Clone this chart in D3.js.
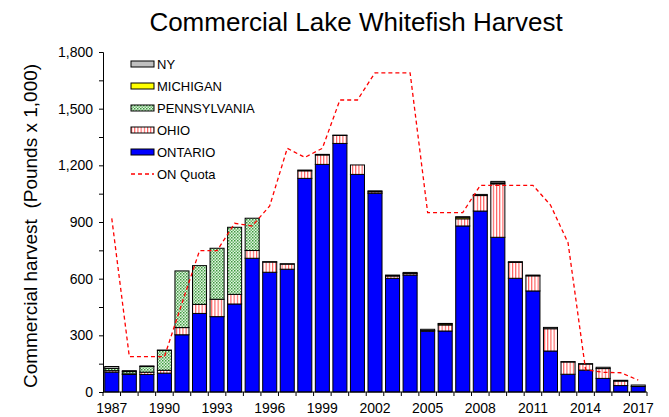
<!DOCTYPE html>
<html>
<head>
<meta charset="utf-8">
<script src="https://cdn.jsdelivr.net/npm/d3@7"></script>
<style>
  body { margin: 0; background: #fff; }
  svg text { font-family: "Liberation Sans", Arial, sans-serif; fill: #000; }
</style>
</head>
<body>
<svg id="chart" width="669" height="417"></svg>
<script>
var years = [1987, 1988, 1989, 1990, 1991, 1992, 1993, 1994, 1995, 1996, 1997, 1998, 1999, 2000, 2001, 2002,
    2003, 2004, 2005, 2006, 2007, 2008, 2009, 2010, 2011, 2012, 2013, 2014, 2015, 2016, 2017];

var ontario = [105, 93, 93, 100, 303, 416, 399, 466, 708, 634, 650, 1131, 1205, 1316, 1152, 1052,
    602, 619, 322, 323, 879, 958, 819, 602, 535, 217, 94, 116, 72, 34, 29];
var ohio = [8, 3, 12, 15, 38, 48, 92, 51, 41, 54, 27, 40, 50, 42, 50, 8,
    12, 8, 3, 32, 38, 82, 283, 84, 80, 118, 65, 32, 52, 24, 0];
var pennsylvania = [12, 12, 30, 105, 300, 205, 270, 355, 171, 0, 0, 0, 0, 0, 0, 0,
    0, 0, 0, 0, 0, 0, 0, 0, 0, 0, 0, 0, 0, 0, 0];
var michigan = [0, 0, 0, 0, 0, 0, 0, 0, 0, 0, 0, 0, 0, 0, 0, 0,
    0, 0, 0, 6, 8, 0, 5, 0, 0, 0, 0, 0, 0, 0, 0];
var ny = [10, 5, 3, 2, 0, 0, 0, 0, 0, 2, 2, 4, 3, 2, 0, 5,
    5, 6, 7, 2, 3, 6, 8, 4, 4, 7, 2, 2, 7, 4, 8];
var quota = [919, 187, 187, 187, 470, 748, 748, 893, 879, 985, 1290, 1242, 1290, 1546, 1546, 1690,
    1690, 1690, 950, 950, 950, 1094, 1094, 1094, 1094, 990, 790, 118, 104, 102, 63];

var yTicks = [0, 300, 600, 900, 1200, 1500, 1800];
var xLabels = [1987, 1990, 1993, 1996, 1999, 2002, 2005, 2008, 2011, 2014, 2017];

var keys = ["ONTARIO", "OHIO", "PENNSYLVANIA", "MICHIGAN", "NY"];
var series = {ONTARIO: ontario, OHIO: ohio, PENNSYLVANIA: pennsylvania, MICHIGAN: michigan, NY: ny};

var data = years.map(function(y, i) {
    var row = {year: y};
    keys.forEach(function(k) { row[k] = series[k][i]; });
    return row;
});

var svg = d3.select("#chart");
var margin = {top: 52, left: 103, bottom: 25, right: 22},
    width = +svg.attr("width"),
    height = +svg.attr("height");

var x = d3.scaleBand()
    .domain(years)
    .range([margin.left, width - margin.right])
    .paddingInner(0.2)
    .paddingOuter(0.1);

var y = d3.scaleLinear()
    .domain([0, 1800])
    .range([height - margin.bottom, margin.top]);

// patterns
var defs = svg.append("defs");
var pa = defs.append("pattern").attr("id", "pa")
    .attr("patternUnits", "userSpaceOnUse").attr("width", 3).attr("height", 3);
pa.append("rect").attr("width", 3).attr("height", 3).attr("fill", "#e2f2e2");
pa.append("rect").attr("x", 0).attr("y", 0).attr("width", 1.5).attr("height", 1.5).attr("fill", "#3c9a3c");
pa.append("rect").attr("x", 1.5).attr("y", 1.5).attr("width", 1.5).attr("height", 1.5).attr("fill", "#6ab86a");

var oh = defs.append("pattern").attr("id", "oh")
    .attr("patternUnits", "userSpaceOnUse").attr("width", 3.2).attr("height", 4);
oh.append("rect").attr("width", 3.2).attr("height", 4).attr("fill", "#fff");
oh.append("rect").attr("x", 0).attr("width", 1.1).attr("height", 4).attr("fill", "#ff5a5a");

var fills = {
    ONTARIO: "#0000ff",
    OHIO: "url(#oh)",
    PENNSYLVANIA: "url(#pa)",
    MICHIGAN: "#ffff00",
    NY: "#c0c0c0"
};

// bars
var stacked = d3.stack().keys(keys)(data);

svg.append("g").selectAll("g.layer")
    .data(stacked)
    .enter().append("g")
    .attr("class", "layer")
    .attr("fill", function(d) { return fills[d.key]; })
    .selectAll("rect")
    .data(function(d) { return d.filter(function(e) { return e[1] - e[0] > 0; }); })
    .enter().append("rect")
    .attr("x", function(d) { return x(d.data.year); })
    .attr("width", x.bandwidth())
    .attr("y", function(d) { return y(d[1]); })
    .attr("height", function(d) { return y(d[0]) - y(d[1]); })
    .attr("stroke", "#000")
    .attr("stroke-width", 1);

// quota line
var line = d3.line()
    .x(function(d, i) { return x(years[i]) + x.bandwidth() / 2; })
    .y(function(d) { return y(d); });

svg.append("path")
    .datum(quota)
    .attr("d", line)
    .attr("fill", "none")
    .attr("stroke", "#ff0000")
    .attr("stroke-width", 1.3)
    .attr("stroke-dasharray", "4,3");

// y axis
var yAxis = svg.append("g")
    .attr("transform", "translate(" + margin.left + ",0)")
    .call(d3.axisLeft(y).tickValues(d3.range(0, 1801, 150)).tickSize(4).tickFormat(function(d) {
        return yTicks.indexOf(d) >= 0 ? d3.format(",")(d) : "";
    }));
yAxis.select(".domain").attr("stroke", "#000");
yAxis.selectAll("text").attr("font-size", 14).attr("dx", -3);

// x axis
var xAxis = svg.append("g")
    .attr("transform", "translate(0," + (height - margin.bottom) + ")");
xAxis.append("line")
    .attr("x1", margin.left).attr("x2", width - margin.right)
    .attr("stroke", "#000");
var tickPos = d3.range(0, years.length + 1).map(function(i) {
    return margin.left + i * (width - margin.left - margin.right) / years.length;
});
xAxis.selectAll("line.tick")
    .data(tickPos)
    .enter().append("line")
    .attr("class", "tick")
    .attr("x1", function(d) { return d; }).attr("x2", function(d) { return d; })
    .attr("y1", 0).attr("y2", 4)
    .attr("stroke", "#000");
xAxis.selectAll("text")
    .data(xLabels)
    .enter().append("text")
    .attr("x", function(d) { return x(d) + x.bandwidth() / 2; })
    .attr("y", 21)
    .attr("text-anchor", "middle")
    .attr("font-size", 14)
    .text(function(d) { return d; });

// titles
svg.append("text")
    .attr("x", 356).attr("y", 31)
    .attr("text-anchor", "middle")
    .attr("font-size", 26)
    .text("Commercial Lake Whitefish Harvest");

svg.append("text")
    .attr("transform", "translate(37,226) rotate(-90)")
    .attr("text-anchor", "middle")
    .attr("font-size", 19)
    .attr("xml:space", "preserve")
    .style("white-space", "pre")
    .text("Commercial harvest  (Pounds x 1,000)");

// legend
var legendItems = ["NY", "MICHIGAN", "PENNSYLVANIA", "OHIO", "ONTARIO"];
var legend = svg.append("g").attr("transform", "translate(131,64)");
legendItems.forEach(function(k, i) {
    var g = legend.append("g").attr("transform", "translate(0," + (i * 22) + ")");
    g.append("rect")
        .attr("x", 0).attr("y", -3).attr("width", 23).attr("height", 6)
        .attr("fill", fills[k]).attr("stroke", "#000").attr("stroke-width", 1);
    g.append("text")
        .attr("x", 26).attr("y", 5)
        .attr("font-size", 13)
        .text(k);
});
var lq = legend.append("g").attr("transform", "translate(0," + (5 * 22) + ")");
lq.append("line")
    .attr("x1", 0).attr("x2", 23)
    .attr("stroke", "#ff0000").attr("stroke-width", 1.3).attr("stroke-dasharray", "4,3");
lq.append("text")
    .attr("x", 26).attr("y", 5)
    .attr("font-size", 13)
    .text("ON Quota");
</script>
</body>
</html>
